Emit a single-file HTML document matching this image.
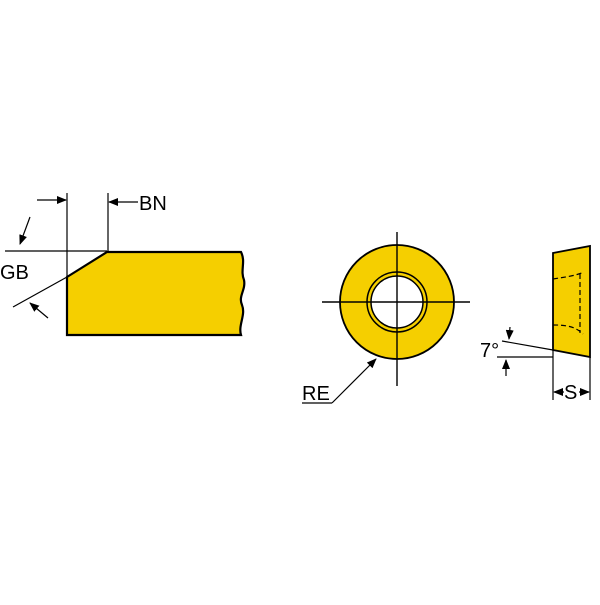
<!DOCTYPE html><html><head><style>body{margin:0;background:#fff}</style></head><body>
<svg width="600" height="600" viewBox="0 0 600 600" xmlns="http://www.w3.org/2000/svg" font-family="Liberation Sans, sans-serif">
<defs><marker id="a" markerWidth="10" markerHeight="8" refX="9" refY="4" orient="auto" markerUnits="userSpaceOnUse"><path d="M0,0 L10,4 L0,8z" fill="#000"/></marker></defs>
<g stroke="#000" fill="none" stroke-width="1.2">
<path d="M67,277 L107,252 L241,252 C246,262 240,270 244,280 C246,290 238,296 242,305 C246,315 238,325 241,335 L67,335 Z" fill="#f5cf00" stroke-width="2.2"/>
<line x1="67" y1="193" x2="67" y2="335"/>
<line x1="108" y1="193" x2="108" y2="252"/>
<line x1="5" y1="251" x2="107" y2="251"/>
<line x1="67" y1="277" x2="13" y2="307"/>
<line x1="37" y1="200" x2="66" y2="200" marker-end="url(#a)"/>
<line x1="138" y1="202" x2="109" y2="202" marker-end="url(#a)"/>
<line x1="30" y1="217" x2="20" y2="244" marker-end="url(#a)"/>
<line x1="48" y1="318" x2="30" y2="303" marker-end="url(#a)"/>
<circle cx="397" cy="302" r="57" fill="#f5cf00" stroke-width="1.8"/>
<circle cx="397" cy="302" r="30" stroke-width="1.5"/>
<circle cx="397" cy="302" r="26" fill="#fff" stroke-width="1.5"/>
<line x1="397" y1="232" x2="397" y2="386" stroke-width="1.4"/>
<line x1="322" y1="302" x2="470" y2="302" stroke-width="1.4"/>
<line x1="332" y1="403" x2="376" y2="359" marker-end="url(#a)"/>
<line x1="302" y1="403" x2="332" y2="403"/>
<path d="M553,253 L590,246 L590,357 L553,350 Z" fill="#f5cf00" stroke-width="1.8"/>
<path d="M553,279 C565,277 575,276 584,272 M553,325 C565,325 575,326 583,334 M580,274 L580,333" stroke-dasharray="5,3"/>
<line x1="502" y1="341" x2="553" y2="350"/>
<line x1="497" y1="357" x2="553" y2="357"/>
<line x1="553" y1="350" x2="553" y2="400"/>
<line x1="590" y1="357" x2="590" y2="400"/>
<line x1="510" y1="327" x2="509" y2="339" marker-end="url(#a)"/>
<line x1="506" y1="376" x2="506" y2="360" marker-end="url(#a)"/>
<line x1="564" y1="392" x2="554" y2="392" marker-end="url(#a)"/>
<line x1="579" y1="392" x2="589" y2="392" marker-end="url(#a)"/>
</g>
<g font-size="20" fill="#000">
<text x="139" y="210">BN</text>
<text x="0" y="279">GB</text>
<text x="302" y="400">RE</text>
<text x="480" y="357">7°</text>
<text x="564" y="399">S</text>
</g>
</svg></body></html>
